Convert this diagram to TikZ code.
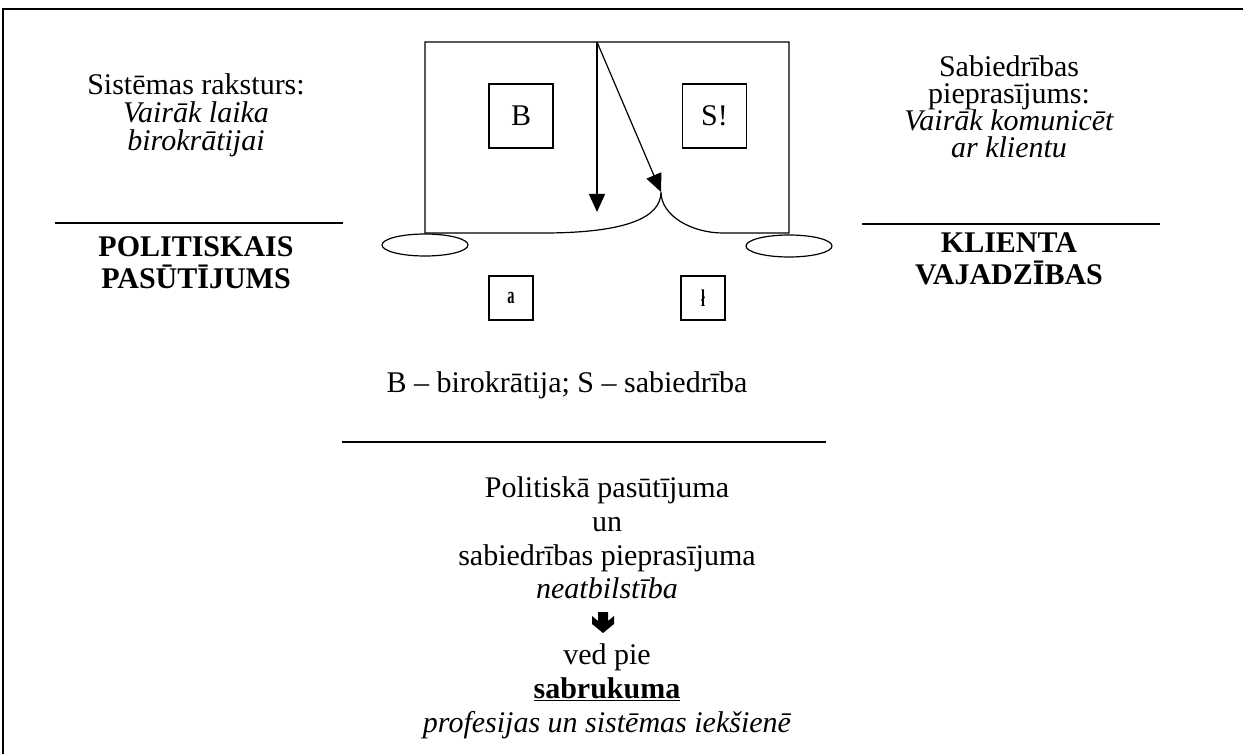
\documentclass[tikz,border=0pt]{standalone}
\usepackage{fontspec}
\usepackage{graphicx}
\setmainfont{Liberation Serif}
\usetikzlibrary{arrows.meta,shapes.geometric}
\begin{document}
\begin{tikzpicture}[x=1pt,y=-1pt,
  line/.style={line width=1.2pt},
  txt/.style={inner sep=0pt, anchor=base, font=\fontsize{30}{30}\selectfont},
  box/.style={draw, line width=1.2pt, minimum width=64pt, minimum height=64pt, inner sep=0pt, font=\fontsize{30}{30}\selectfont},
  sbox/.style={draw, line width=1.2pt, minimum width=44pt, minimum height=44pt, inner sep=0pt, font=\fontsize{24}{24}\selectfont\bfseries},
  oval/.style={draw, ellipse, line width=1.2pt, minimum width=86pt, minimum height=22pt, inner sep=0pt},
  tip/.style={-{Triangle[length=18pt,width=16pt]}}
]
\useasboundingbox (0,0) rectangle (1243,754);
% frame
\draw[line] (1243,9) -- (3,9) -- (3,754);

% central figure
\coordinate (tl) at (425,42);
\coordinate (tr) at (789,42);
\coordinate (bl) at (425,233);
\coordinate (br) at (789,233);
\coordinate (top) at (597,42);
\coordinate (cusp) at (661,192);
\coordinate (lj) at (543,233);
\coordinate (rj) at (723,233);
\coordinate (vt) at (597,212);
\draw[line, line join=miter] (lj) -- (bl) -- (tl) -- (tr) -- (br) -- (rj)
   .. controls (692,233) and (661,216) .. (cusp)
   .. controls (661,218) and (625,233) .. (lj);
\draw[line,tip] (top) -- (vt);
\draw[line,tip] (top) -- (cusp);

\node[box] (B) at (521,116) {B};
\node[box] (S) at (714.5,116) {S!};
\node[oval] (e1) at (425,245) {};
\node[oval] (e2) at (789,246) {};
\node[sbox] (a) at (511,298) {\scalebox{0.6}[1]{a}};
\node[sbox] (t) at (703,298) {\scalebox{0.6}[1]{ł}};

% left block
\node[txt] (l1) at (196,95) {Sistēmas raksturs:};
\node[txt] (l2) at (196,123) {\itshape Vairāk laika};
\node[txt] (l3) at (196,151) {\itshape birokrātijai};
\coordinate (la) at (55,223);
\coordinate (lb) at (343,223);
\draw[line] (la) -- (lb);
\node[txt] (l4) at (196,257) {\bfseries POLITISKAIS};
\node[txt] (l5) at (196,288) {\bfseries PASŪTĪJUMS};

% right block
\node[txt] (r1) at (1009,77) {Sabiedrības};
\node[txt] (r2) at (1009,104) {pieprasījums:};
\node[txt] (r3) at (1009,131) {\itshape Vairāk komunicēt};
\node[txt] (r4) at (1009,158) {\itshape ar klientu};
\coordinate (ra) at (862,224);
\coordinate (rb) at (1160,224);
\draw[line] (ra) -- (rb);
\node[txt] (r5) at (1009,253) {\bfseries KLIENTA};
\node[txt] (r6) at (1009,285) {\bfseries VAJADZĪBAS};

% legend
\node[txt] (leg) at (567,392) {B – birokrātija; S – sabiedrība};
\coordinate (ma) at (342,442);
\coordinate (mb) at (826,442);
\draw[line] (ma) -- (mb);

% bottom block
\node[txt] (b1) at (607,497) {Politiskā pasūtījuma};
\node[txt] (b2) at (607,531) {un};
\node[txt] (b3) at (607,565) {sabiedrības pieprasījuma};
\node[txt] (b4) at (607,598) {\itshape neatbilstība};
\fill (598,612) -- (608,612) -- (608,621) -- (614,616) -- (614,624) -- (603,633) -- (592,624) -- (592,616) -- (598,621) -- cycle;
\node[txt] (b5) at (607,664) {ved pie};
\node[txt] (b6) at (607,698) {\bfseries\underline{sabrukuma}};
\node[txt] (b7) at (607,732) {\itshape profesijas un sistēmas iekšienē};
\end{tikzpicture}
\end{document}
